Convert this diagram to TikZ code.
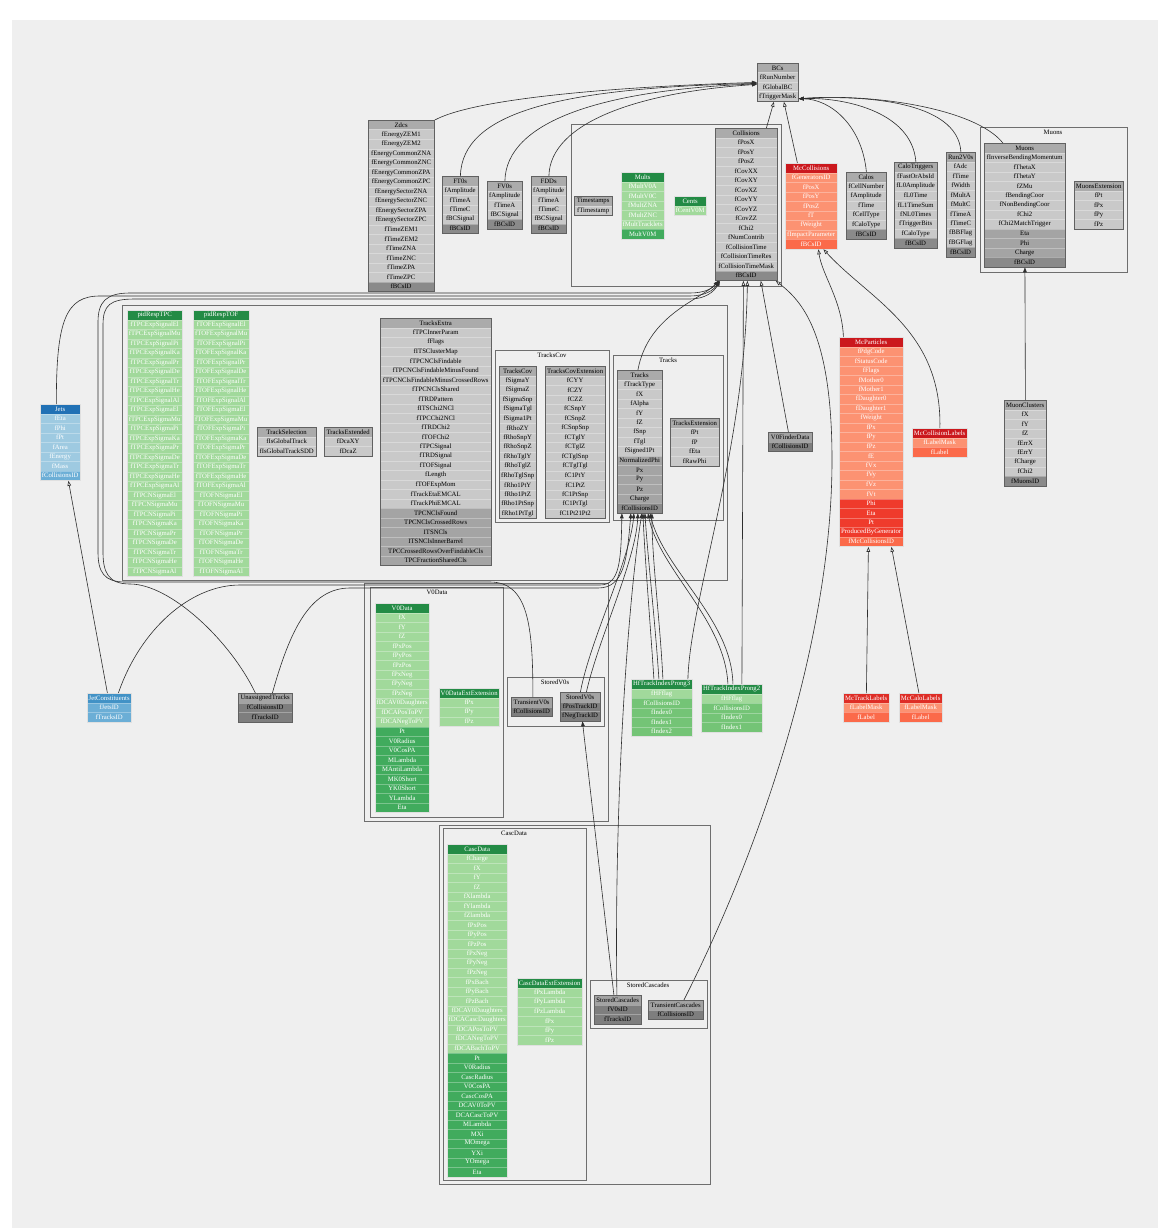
\documentclass[tikz,border=0pt]{standalone}
\usepackage{fontspec}
\newfontfamily\tabfont{Liberation Serif}
\usetikzlibrary{arrows.meta,calc}
\definecolor{pagebg}{HTML}{EFEFEF}
\definecolor{gH}{HTML}{ABABAB}
\definecolor{gB}{HTML}{C9C9C9}
\definecolor{gC}{HTML}{A4A4A4}
\definecolor{gI}{HTML}{8A8A8A}
\definecolor{dH}{HTML}{A3A3A3}
\definecolor{dB}{HTML}{7E7E7E}
\definecolor{nH}{HTML}{238B45}
\definecolor{nB}{HTML}{A1D99B}
\definecolor{nC}{HTML}{41AB5D}
\definecolor{nM}{HTML}{74C476}
\definecolor{rH}{HTML}{CB181D}
\definecolor{rHb}{HTML}{DE2D26}
\definecolor{rB}{HTML}{FC9272}
\definecolor{rC}{HTML}{EF3B2C}
\definecolor{rI}{HTML}{FB6A4A}
\definecolor{bH}{HTML}{2171B5}
\definecolor{bHb}{HTML}{4292C6}
\definecolor{bB}{HTML}{9ECAE1}
\definecolor{bI}{HTML}{6BAED6}
\definecolor{edgecol}{HTML}{2E2E2E}
\definecolor{clustercol}{HTML}{6E6E6E}
\newcommand\tf{\tabfont\fontsize{6.7}{7}\selectfont}
\tikzset{
 tcell/.style={anchor=north west, minimum height=9.5pt, inner sep=0pt, font=\tf, draw=white, draw opacity=0.3, line width=0.3pt},
 gh/.style={tcell, fill=gH, text=black},
 gb/.style={tcell, fill=gB, text=black},
 gc/.style={tcell, fill=gC, text=black},
 gi/.style={tcell, fill=gI, text=black},
 dh/.style={tcell, fill=dH, text=black},
 db/.style={tcell, fill=dB, text=black},
 nh/.style={tcell, fill=nH, text=white},
 nb/.style={tcell, fill=nB, text=white},
 nc/.style={tcell, fill=nC, text=white},
 nm/.style={tcell, fill=nM, text=white},
 rh/.style={tcell, fill=rH, text=white},
 rhb/.style={tcell, fill=rHb, text=white},
 rb/.style={tcell, fill=rB, text=white},
 rc/.style={tcell, fill=rC, text=white},
 ri/.style={tcell, fill=rI, text=white},
 bh/.style={tcell, fill=bH, text=white},
 bhb/.style={tcell, fill=bHb, text=white},
 bb/.style={tcell, fill=bB, text=white},
 bi/.style={tcell, fill=bI, text=white},
 tbord/.style={draw=black!62, line width=0.8pt},
 cbord/.style={draw=white!88!black, line width=0.8pt},
 clus/.style={draw=clustercol, line width=0.9pt},
 clab/.style={font=\tf, anchor=north, inner sep=0pt},
 conn/.style={draw=edgecol, line width=0.6pt},
 arrF/.style={-{Triangle[length=5pt,width=3.6pt]}},
 arrO/.style={-{Triangle[open,length=5pt,width=3.6pt]}},
}
\newcommand\dbt[6]{%
  \foreach \cst/\ctx [count=\ci] in {#6}{%
    \node[\cst, minimum width=#4pt] at (#2,{#3+(\ci-1)*9.5}) {\ctx};
    \xdef\nrows{\ci}%
  }%
  \pgfmathsetmacro\tblh{\nrows*9.5}%
  \node[#5, anchor=north west, minimum width=#4pt, minimum height=\tblh pt, inner sep=0pt] (#1) at (#2,#3) {};
}
\begin{document}
\begin{tikzpicture}[x=1pt,y=-1pt]
\useasboundingbox (0,0) rectangle (1158,1228);
\fill[white] (0,0) rectangle (1158,1228);
\fill[pagebg] (12,20) rectangle (1158,1228);

% clusters
\draw[clus] (571,124) rectangle (781,286);
\draw[clus] (980,127) rectangle (1127,272);
\node[clab] (labMuons) at (1053,130) {Muons};
\draw[clus] (122,305) rectangle (727,580);
\draw[clus] (495,350) rectangle (609,522);
\node[clab] (labTracksCov) at (552,353) {TracksCov};
\draw[clus] (613,355) rectangle (723,520);
\node[clab] (labTracks) at (668,358) {Tracks};
\draw[clus] (364,583) rectangle (608,821);
\draw[clus] (370,587) rectangle (503,817);
\node[clab] (labV0Data) at (437,590) {V0Data};
\draw[clus] (507,677) rectangle (604,726);
\node[clab] (labStoredV0s) at (555,680) {StoredV0s};
\draw[clus] (439,825) rectangle (710,1184);
\draw[clus] (443,828) rectangle (586,1180);
\node[clab] (labCascData) at (514,831) {CascData};
\draw[clus] (590,980) rectangle (707,1028);
\node[clab] (labStoredCascades) at (648,983) {StoredCascades};

% tables
\dbt{BCs}{757}{63}{41}{tbord}{gh/BCs,gb/fRunNumber,gb/fGlobalBC,gb/fTriggerMask}
\dbt{Zdcs}{368}{120}{66}{tbord}{gh/Zdcs,gb/fEnergyZEM1,gb/fEnergyZEM2,gb/fEnergyCommonZNA,gb/fEnergyCommonZNC,gb/fEnergyCommonZPA,gb/fEnergyCommonZPC,gb/fEnergySectorZNA,gb/fEnergySectorZNC,gb/fEnergySectorZPA,gb/fEnergySectorZPC,gb/fTimeZEM1,gb/fTimeZEM2,gb/fTimeZNA,gb/fTimeZNC,gb/fTimeZPA,gb/fTimeZPC,gi/fBCsID}
\dbt{FT0s}{442}{176}{36}{tbord}{gh/FT0s,gb/fAmplitude,gb/fTimeA,gb/fTimeC,gb/fBCSignal,gi/fBCsID}
\dbt{FV0s}{487}{181}{35}{tbord}{gh/FV0s,gb/fAmplitude,gb/fTimeA,gb/fBCSignal,gi/fBCsID}
\dbt{FDDs}{531}{176}{35}{tbord}{gh/FDDs,gb/fAmplitude,gb/fTimeA,gb/fTimeC,gb/fBCSignal,gi/fBCsID}
\dbt{Timestamps}{574}{196}{38}{tbord}{gh/Timestamps,gb/fTimestamp}
\dbt{Mults}{621}{172}{43}{cbord}{nh/Mults,nb/fMultV0A,nb/fMultV0C,nb/fMultZNA,nb/fMultZNC,nb/fMultTracklets,nc/MultV0M}
\dbt{Cents}{674}{196}{32}{cbord}{nh/Cents,nb/fCentV0M}
\dbt{Collisions}{715}{128}{62}{tbord}{gh/Collisions,gb/fPosX,gb/fPosY,gb/fPosZ,gb/fCovXX,gb/fCovXY,gb/fCovXZ,gb/fCovYY,gb/fCovYZ,gb/fCovZZ,gb/fChi2,gb/fNumContrib,gb/fCollisionTime,gb/fCollisionTimeRes,gb/fCollisionTimeMask,gi/fBCsID}
\dbt{McCollisions}{785}{163}{52}{cbord}{rh/McCollisions,rb/fGeneratorsID,rb/fPosX,rb/fPosY,rb/fPosZ,rb/fT,rb/fWeight,rb/fImpactParameter,ri/fBCsID}
\dbt{Calos}{846}{172}{40}{tbord}{gh/Calos,gb/fCellNumber,gb/fAmplitude,gb/fTime,gb/fCellType,gb/fCaloType,gi/fBCsID}
\dbt{CaloTriggers}{894}{162}{43}{tbord}{gh/CaloTriggers,gb/fFastOrAbsId,gb/fL0Amplitude,gb/fL0Time,gb/fL1TimeSum,gb/fNL0Times,gb/fTriggerBits,gb/fCaloType,gi/fBCsID}
\dbt{Run2V0s}{946}{152}{29}{tbord}{gh/Run2V0s,gb/fAdc,gb/fTime,gb/fWidth,gb/fMultA,gb/fMultC,gb/fTimeA,gb/fTimeC,gb/fBBFlag,gb/fBGFlag,gi/fBCsID}
\dbt{Muons}{984}{143}{81}{tbord}{gh/Muons,gb/fInverseBendingMomentum,gb/fThetaX,gb/fThetaY,gb/fZMu,gb/fBendingCoor,gb/fNonBendingCoor,gb/fChi2,gb/fChi2MatchTrigger,gc/Eta,gc/Phi,gc/Charge,gi/fBCsID}
\dbt{MuonsExtension}{1074}{181}{49}{tbord}{gh/MuonsExtension,gb/fPt,gb/fPx,gb/fPy,gb/fPz}
\dbt{MuonClusters}{1004}{400}{42}{tbord}{gh/MuonClusters,gb/fX,gb/fY,gb/fZ,gb/fErrX,gb/fErrY,gb/fCharge,gb/fChi2,gi/fMuonsID}
\dbt{pidRespTPC}{127}{310}{55}{cbord}{nh/pidRespTPC,nb/fTPCExpSignalEl,nb/fTPCExpSignalMu,nb/fTPCExpSignalPi,nb/fTPCExpSignalKa,nb/fTPCExpSignalPr,nb/fTPCExpSignalDe,nb/fTPCExpSignalTr,nb/fTPCExpSignalHe,nb/fTPCExpSignalAl,nb/fTPCExpSigmaEl,nb/fTPCExpSigmaMu,nb/fTPCExpSigmaPi,nb/fTPCExpSigmaKa,nb/fTPCExpSigmaPr,nb/fTPCExpSigmaDe,nb/fTPCExpSigmaTr,nb/fTPCExpSigmaHe,nb/fTPCExpSigmaAl,nb/fTPCNSigmaEl,nb/fTPCNSigmaMu,nb/fTPCNSigmaPi,nb/fTPCNSigmaKa,nb/fTPCNSigmaPr,nb/fTPCNSigmaDe,nb/fTPCNSigmaTr,nb/fTPCNSigmaHe,nb/fTPCNSigmaAl}
\dbt{pidRespTOF}{193}{310}{56}{cbord}{nh/pidRespTOF,nb/fTOFExpSignalEl,nb/fTOFExpSignalMu,nb/fTOFExpSignalPi,nb/fTOFExpSignalKa,nb/fTOFExpSignalPr,nb/fTOFExpSignalDe,nb/fTOFExpSignalTr,nb/fTOFExpSignalHe,nb/fTOFExpSignalAl,nb/fTOFExpSigmaEl,nb/fTOFExpSigmaMu,nb/fTOFExpSigmaPi,nb/fTOFExpSigmaKa,nb/fTOFExpSigmaPr,nb/fTOFExpSigmaDe,nb/fTOFExpSigmaTr,nb/fTOFExpSigmaHe,nb/fTOFExpSigmaAl,nb/fTOFNSigmaEl,nb/fTOFNSigmaMu,nb/fTOFNSigmaPi,nb/fTOFNSigmaKa,nb/fTOFNSigmaPr,nb/fTOFNSigmaDe,nb/fTOFNSigmaTr,nb/fTOFNSigmaHe,nb/fTOFNSigmaAl}
\dbt{TrackSelection}{257}{427}{59}{tbord}{gh/TrackSelection,gb/fIsGlobalTrack,gb/fIsGlobalTrackSDD}
\dbt{TracksExtended}{324}{427}{48}{tbord}{gh/TracksExtended,gb/fDcaXY,gb/fDcaZ}
\dbt{TracksExtra}{380}{318}{111}{tbord}{gh/TracksExtra,gb/fTPCInnerParam,gb/fFlags,gb/fITSClusterMap,gb/fTPCNClsFindable,gb/fTPCNClsFindableMinusFound,gb/fTPCNClsFindableMinusCrossedRows,gb/fTPCNClsShared,gb/fTRDPattern,gb/fITSChi2NCl,gb/fTPCChi2NCl,gb/fTRDChi2,gb/fTOFChi2,gb/fTPCSignal,gb/fTRDSignal,gb/fTOFSignal,gb/fLength,gb/fTOFExpMom,gb/fTrackEtaEMCAL,gb/fTrackPhiEMCAL,gc/TPCNClsFound,gc/TPCNClsCrossedRows,gc/ITSNCls,gc/ITSNClsInnerBarrel,gc/TPCCrossedRowsOverFindableCls,gc/TPCFractionSharedCls}
\dbt{TracksCov}{499}{366}{37}{tbord}{gh/TracksCov,gb/fSigmaY,gb/fSigmaZ,gb/fSigmaSnp,gb/fSigmaTgl,gb/fSigma1Pt,gb/fRhoZY,gb/fRhoSnpY,gb/fRhoSnpZ,gb/fRhoTglY,gb/fRhoTglZ,gb/fRhoTglSnp,gb/fRho1PtY,gb/fRho1PtZ,gb/fRho1PtSnp,gb/fRho1PtTgl}
\dbt{TracksCovExtension}{545}{366}{60}{tbord}{gh/TracksCovExtension,gb/fCYY,gb/fCZY,gb/fCZZ,gb/fCSnpY,gb/fCSnpZ,gb/fCSnpSnp,gb/fCTglY,gb/fCTglZ,gb/fCTglSnp,gb/fCTglTgl,gb/fC1PtY,gb/fC1PtZ,gb/fC1PtSnp,gb/fC1PtTgl,gb/fC1Pt21Pt2}
\dbt{Tracks}{617}{370}{45}{tbord}{gh/Tracks,gb/fTrackType,gb/fX,gb/fAlpha,gb/fY,gb/fZ,gb/fSnp,gb/fTgl,gb/fSigned1Pt,gc/NormalizedPhi,gc/Px,gc/Py,gc/Pz,gc/Charge,gi/fCollisionsID}
\dbt{TracksExtension}{670}{418}{49}{tbord}{gh/TracksExtension,gb/fPt,gb/fP,gb/fEta,gb/fRawPhi}
\dbt{V0FinderData}{768}{432}{44}{tbord}{dh/V0FinderData,db/fCollisionsID}
\dbt{McParticles}{839}{337}{64}{cbord}{rh/McParticles,rb/fPdgCode,rb/fStatusCode,rb/fFlags,rb/fMother0,rb/fMother1,rb/fDaughter0,rb/fDaughter1,rb/fWeight,rb/fPx,rb/fPy,rb/fPz,rb/fE,rb/fVx,rb/fVy,rb/fVz,rb/fVt,rc/Phi,rc/Eta,rc/Pt,rc/ProducedByGenerator,ri/fMcCollisionsID}
\dbt{McCollisionLabels}{912}{428}{55}{cbord}{rh/McCollisionLabels,rb/fLabelMask,ri/fLabel}
\dbt{Jets}{40}{404}{40}{cbord}{bh/Jets,bb/fEta,bb/fPhi,bb/fPt,bb/fArea,bb/fEnergy,bb/fMass,bi/fCollisionsID}
\dbt{JetConstituents}{87}{693}{44}{cbord}{bhb/JetConstituents,bi/fJetsID,bi/fTracksID}
\dbt{UnassignedTracks}{238}{693}{54}{tbord}{dh/UnassignedTracks,db/fCollisionsID,db/fTracksID}
\dbt{V0Data}{375}{603}{54}{cbord}{nh/V0Data,nb/fX,nb/fY,nb/fZ,nb/fPxPos,nb/fPyPos,nb/fPzPos,nb/fPxNeg,nb/fPyNeg,nb/fPzNeg,nb/fDCAV0Daughters,nb/fDCAPosToPV,nb/fDCANegToPV,nc/Pt,nc/V0Radius,nc/V0CosPA,nc/MLambda,nc/MAntiLambda,nc/MK0Short,nc/YK0Short,nc/YLambda,nc/Eta}
\dbt{V0DataExtExtension}{439}{688}{60}{cbord}{nh/V0DataExtExtension,nb/fPx,nb/fPy,nb/fPz}
\dbt{TransientV0s}{511}{697}{41}{tbord}{dh/TransientV0s,db/fCollisionsID}
\dbt{StoredV0s}{560}{692}{40}{tbord}{dh/StoredV0s,db/fPosTrackID,db/fNegTrackID}
\dbt{HfTrackIndexProng3}{631}{679}{61}{cbord}{nh/HfTrackIndexProng3,nb/fHFflag,nm/fCollisionsID,nm/fIndex0,nm/fIndex1,nm/fIndex2}
\dbt{HfTrackIndexProng2}{701}{684}{61}{cbord}{nh/HfTrackIndexProng2,nb/fHFflag,nm/fCollisionsID,nm/fIndex0,nm/fIndex1}
\dbt{McTrackLabels}{843}{693}{46}{cbord}{rhb/McTrackLabels,rb/fLabelMask,ri/fLabel}
\dbt{McCaloLabels}{899}{693}{43}{cbord}{rhb/McCaloLabels,rb/fLabelMask,ri/fLabel}
\dbt{CascData}{447}{844}{60}{cbord}{nh/CascData,nb/fCharge,nb/fX,nb/fY,nb/fZ,nb/fXlambda,nb/fYlambda,nb/fZlambda,nb/fPxPos,nb/fPyPos,nb/fPzPos,nb/fPxNeg,nb/fPyNeg,nb/fPzNeg,nb/fPxBach,nb/fPyBach,nb/fPzBach,nb/fDCAV0Daughters,nb/fDCACascDaughters,nb/fDCAPosToPV,nb/fDCANegToPV,nb/fDCABachToPV,nc/Pt,nc/V0Radius,nc/CascRadius,nc/V0CosPA,nc/CascCosPA,nc/DCAV0ToPV,nc/DCACascToPV,nc/MLambda,nc/MXi,nc/MOmega,nc/YXi,nc/YOmega,nc/Eta}
\dbt{CascDataExtExtension}{517}{978}{65}{cbord}{nh/CascDataExtExtension,nb/fPxLambda,nb/fPyLambda,nb/fPzLambda,nb/fPx,nb/fPy,nb/fPz}
\dbt{StoredCascades}{594}{995}{47}{tbord}{dh/StoredCascades,db/fV0sID,db/fTracksID}
\dbt{TransientCascades}{648}{1000}{55}{tbord}{dh/TransientCascades,db/fCollisionsID}

% connectors to BCs
\draw[conn,arrF] (Zdcs.north east) .. controls (480,96) and (640,86) .. ($(BCs.west)+(0,0)$);
\draw[conn,arrF] (FT0s.north) .. controls (462,112) and (560,88) .. ($(BCs.west)+(0,1)$);
\draw[conn,arrF] (FV0s.north) .. controls (506,122) and (600,90) .. ($(BCs.west)+(0,1.5)$);
\draw[conn,arrF] (FDDs.north) .. controls (550,122) and (640,92) .. ($(BCs.west)+(0,2)$);
\draw[conn,arrO] ($(Collisions.north)+(20,0)$) -- ($(BCs.south)+(-4,0)$);
\draw[conn,arrO] ($(McCollisions.north)+(-14,0)$) -- ($(BCs.south)+(6,0)$);
\draw[conn,arrF] (Calos.north) .. controls (862,125) and (830,99) .. ($(BCs.south east)+(0,-3)$);
\draw[conn,arrF] (CaloTriggers.north) .. controls (912,110) and (840,97) .. ($(BCs.south east)+(0,-3)$);
\draw[conn,arrF] (Run2V0s.north) .. controls (958,100) and (860,95) .. ($(BCs.south east)+(0,-3)$);
\draw[conn,arrF] ($(Muons.north)+(-22,0)$) .. controls (975,108) and (870,93) .. ($(BCs.south east)+(0,-3)$);

% connectors to Collisions
\draw[conn,arrF] ($(Tracks.north)+(-2,0)$) .. controls (648,315) and (700,300) .. ($(Collisions.south west)+(4,0)$);
\draw[conn,arrF] ($(Jets.north)+(-4,0)$) .. controls (56,320) and (66,296) .. (100,296) -- (690,296) .. controls (705,296) and (714,290) .. ($(Collisions.south west)+(4,0)$);
\draw[conn,arrF] ($(UnassignedTracks.north)+(-10,0)$) .. controls (230,640) and (170,584) .. (130,584) .. controls (108,584) and (103,572) .. (103,552) -- (103,325) .. controls (103,305) and (110,299) .. (135,299) -- (690,299) .. controls (705,299) and (714,292) .. ($(Collisions.south west)+(5,0)$);
\draw[conn,arrF] ($(TransientV0s.north)+(1,0)$) .. controls (533,625) and (528,582) .. (490,582) -- (125,582) .. controls (104,582) and (98,572) .. (98,552) -- (98,322) .. controls (98,302) and (106,293) .. (130,293) -- (690,293) .. controls (705,293) and (713,288) .. ($(Collisions.south west)+(3,0)$);
\draw[conn,arrO] ($(HfTrackIndexProng2.north)+(10,0)$) -- ($(Collisions.south)+(-3,0)$);
\draw[conn,arrO] ($(HfTrackIndexProng3.north)+(26,0)$) .. controls (690,600) and (745,450) .. ($(Collisions.south)+(1,0)$);
\draw[conn,arrO] ($(V0FinderData.north)+(-2,0)$) -- ($(Collisions.south east)+(-17,0)$);
\draw[conn,arrO] ($(TransientCascades.north)+(8,0)$) .. controls (760,850) and (832,640) .. (832,460) .. controls (832,330) and (800,300) .. ($(Collisions.south east)+(-2,0)$);

% connectors to Tracks
\draw[conn,arrF] ($(JetConstituents.north)+(9,0)$) .. controls (140,630) and (190,585) .. (240,585) -- (600,585) .. controls (620,585) and (621,560) .. ($(Tracks.south)+(-18,0)$);
\draw[conn,arrF] ($(UnassignedTracks.north)+(7,0)$) .. controls (290,630) and (310,588) .. (350,588) -- (598,588) .. controls (624,588) and (627,560) .. ($(Tracks.south)+(-9,0)$);
\draw[conn,arrF] (StoredV0s.north) .. controls (590,640) and (630,560) .. ($(Tracks.south)+(-6,0)$);
\draw[conn,arrF] ($(StoredV0s.north)+(6,0)$) .. controls (598,640) and (636,560) .. ($(Tracks.south)+(-2,0)$);
\draw[conn,arrF] ($(StoredCascades.north)+(-1,0)$) .. controls (614,800) and (628,600) .. ($(Tracks.south)+(2,0)$);
\draw[conn,arrF] ($(HfTrackIndexProng3.north)+(-8,0)$) .. controls (650,620) and (645,560) .. ($(Tracks.south)+(3,0)$);
\draw[conn,arrF] ($(HfTrackIndexProng3.north)+(-3,0)$) .. controls (655,620) and (648,560) .. ($(Tracks.south)+(5,0)$);
\draw[conn,arrF] ($(HfTrackIndexProng3.north)+(1,0)$) .. controls (660,620) and (652,560) .. ($(Tracks.south)+(12,0)$);
\draw[conn,arrF] ($(HfTrackIndexProng2.north)+(-4,0)$) .. controls (725,620) and (660,570) .. ($(Tracks.south)+(8,0)$);
\draw[conn,arrF] ($(HfTrackIndexProng2.north)+(1,0)$) .. controls (732,620) and (664,570) .. ($(Tracks.south)+(10,0)$);

% other connectors
\draw[conn,arrF] ($(StoredCascades.north)+(-4,0)$) -- ($(StoredV0s.south)+(2,0)$);
\draw[conn,arrO] ($(JetConstituents.north)+(-2,0)$) -- ($(Jets.south)+(8,0)$);
\draw[conn,arrO] ($(McParticles.north)+(-28,0)$) .. controls (842,300) and (822,275) .. ($(McCollisions.south)+(7,0)$);
\draw[conn,arrO] (McCollisionLabels.north) .. controls (942,330) and (870,300) .. ($(McCollisions.south)+(12,0)$);
\draw[conn,arrO] (McTrackLabels.north) -- ($(McParticles.south)+(-3,0)$);
\draw[conn,arrO] ($(McCaloLabels.north)+(-2,0)$) -- ($(McParticles.south)+(20,0)$);
\draw[conn,arrF] (MuonClusters.north) -- (Muons.south);
\end{tikzpicture}
\end{document}
